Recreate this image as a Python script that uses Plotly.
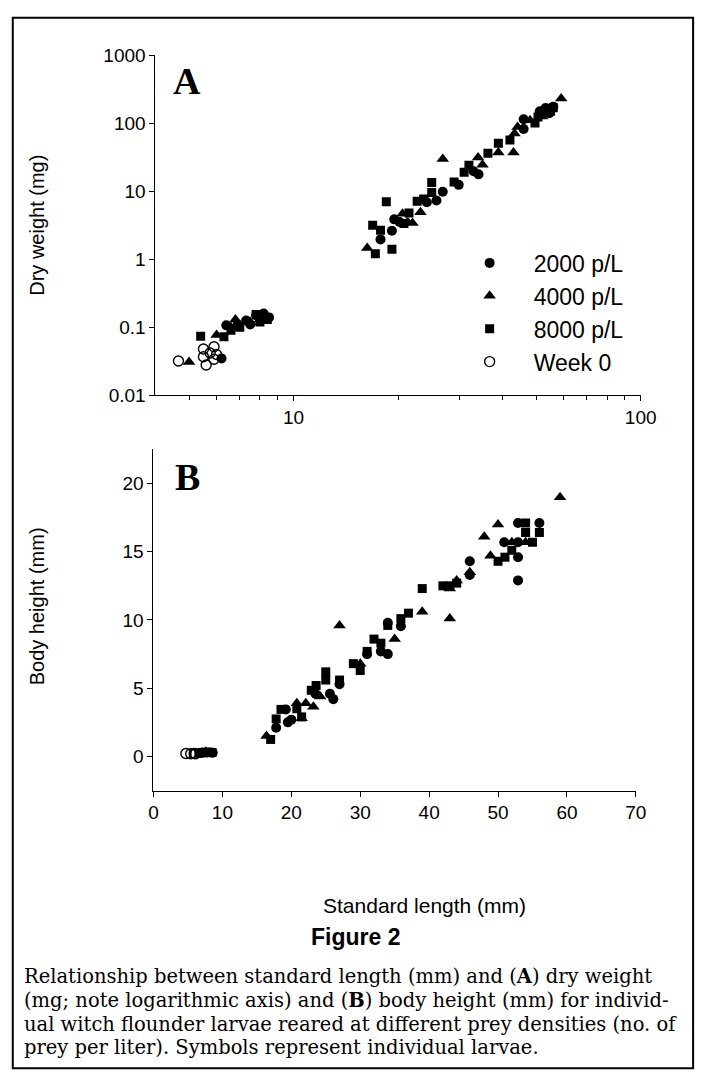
import plotly.graph_objects as go

W, H = 713, 1087
def px(x): return x / W
def py(y): return 1 - y / H

# ---------------- Panel A: dry weight (log-log) ----------------
a_len_2000 = [6.2, 6.4, 6.9, 7.3, 7.5, 7.8, 8.2, 8.5, 17.8, 19.2, 19.5, 20.2, 24.2, 25.8, 26.9, 29.9, 33.0, 34.1, 46.0, 46.0, 51.2, 53.2, 54.5, 56.0]
a_dw_2000 = [0.035, 0.107, 0.11, 0.126, 0.11, 0.15, 0.16, 0.14, 1.96, 2.62, 3.86, 3.53, 6.9, 7.3, 9.8, 12.4, 19.7, 17.7, 114, 82, 150, 167, 140, 175]

a_len_4000 = [5.0, 6.0, 6.6, 6.8, 7.5, 8.0, 16.3, 20.6, 21.3, 22.0, 23.2, 26.9, 34.0, 35.0, 38.9, 43.0, 43.3, 44.2, 48.0, 52.0, 54.0, 59.0]
a_dw_4000 = [0.031, 0.077, 0.10, 0.13, 0.12, 0.13, 1.46, 4.67, 3.53, 3.41, 4.92, 29.7, 31.4, 24.5, 37, 37, 70.5, 88, 110, 125, 145, 230]

a_len_8000 = [5.4, 6.3, 6.6, 7.0, 7.8, 8.0, 8.4, 16.9, 17.2, 17.8, 18.5, 19.2, 20.8, 21.5, 22.7, 23.7, 25.0, 25.0, 29.0, 31.0, 32.0, 36.3, 38.9, 42.0, 49.6, 50.6, 54.0, 55.0, 56.0]
a_dw_8000 = [0.074, 0.073, 0.091, 0.10, 0.155, 0.12, 0.13, 3.16, 1.21, 2.68, 7.0, 1.41, 3.35, 4.8, 7.1, 7.7, 9.6, 13.4, 13.7, 19, 24, 36, 50.6, 56.6, 101, 123, 160, 150, 168]

a_len_w0 = [4.66, 5.5, 5.5, 5.6, 5.75, 5.9, 5.9, 6.0]
a_dw_w0 = [0.032, 0.048, 0.037, 0.028, 0.042, 0.052, 0.034, 0.040]

# ---------------- Panel B: body height (linear) ----------------
b_len_2000 = [6.8, 7.3, 7.8, 8.3, 8.6, 17.8, 19.2, 19.5, 20.0, 23.5, 25.6, 26.1, 27.0, 31.0, 33.0, 34.0, 34.0, 35.9, 45.9, 45.9, 50.9, 52.9, 52.9, 52.9, 52.9, 56.0]
b_bh_2000 = [0.25, 0.3, 0.3, 0.3, 0.28, 2.1, 3.45, 2.5, 2.7, 4.6, 4.6, 4.2, 5.3, 7.5, 7.7, 7.5, 9.8, 9.55, 14.3, 13.3, 15.7, 17.1, 15.7, 14.6, 12.9, 17.1]

b_len_4000 = [7.0, 7.6, 8.1, 16.4, 20.8, 21.5, 22.1, 23.2, 24.2, 27.0, 30.0, 35.0, 39.0, 43.0, 43.0, 44.0, 45.9, 48.0, 48.9, 50.0, 52.0, 54.0, 59.0]
b_bh_4000 = [0.3, 0.35, 0.3, 1.5, 3.9, 2.8, 3.9, 3.65, 4.4, 9.6, 6.8, 8.6, 10.6, 12.3, 10.1, 12.9, 13.5, 16.1, 14.7, 17.0, 15.7, 15.7, 19.0]

b_len_8000 = [6.6, 7.2, 8.0, 8.5, 17.0, 17.8, 18.5, 20.8, 21.5, 22.9, 23.6, 25.0, 25.0, 27.0, 29.0, 30.0, 31.0, 32.0, 33.0, 34.0, 35.9, 37.0, 39.0, 42.0, 43.0, 44.0, 50.0, 51.0, 52.0, 54.0, 54.0, 55.0, 56.0]
b_bh_8000 = [0.25, 0.28, 0.3, 0.3, 1.25, 2.75, 3.45, 3.5, 2.9, 4.85, 5.2, 6.2, 5.6, 5.6, 6.8, 6.3, 7.7, 8.6, 8.3, 9.6, 10.1, 10.5, 12.3, 12.5, 12.5, 12.7, 14.3, 14.6, 15.1, 17.1, 16.4, 15.7, 16.4]

b_len_w0 = [4.7, 5.4, 5.9, 6.1]
b_bh_w0 = [0.22, 0.2, 0.22, 0.2]

series_names = ["2000 p/L", "4000 p/L", "8000 p/L", "Week 0"]

a_ytickvals = [0.01, 0.1, 1, 10, 100, 1000]
a_yticktext = ["0.01", "0.1", "1", "10", "100", "1000"]
a_xtickvals = [10, 100]
a_xminor = [5, 6, 7, 8, 9, 20, 30, 40, 50, 60, 70, 80, 90]
b_xtickvals = [0, 10, 20, 30, 40, 50, 60, 70]
b_ytickvals = [0, 5, 10, 15, 20]

fig = go.Figure()

def mk(symbol, size, open_=False):
    if open_:
        return dict(symbol="circle-open", size=size, color="black", line=dict(width=1.4, color="black"))
    return dict(symbol=symbol, size=size, color="black", line=dict(width=0))

styles = [mk("circle", 10), mk("triangle-up", 11), mk("square", 9), mk(None, 10, True)]
a_data = [(a_len_2000, a_dw_2000), (a_len_4000, a_dw_4000), (a_len_8000, a_dw_8000), (a_len_w0, a_dw_w0)]
b_data = [(b_len_2000, b_bh_2000), (b_len_4000, b_bh_4000), (b_len_8000, b_bh_8000), (b_len_w0, b_bh_w0)]

for i, name in enumerate(series_names):
    x, y = a_data[i]
    fig.add_trace(go.Scatter(x=x, y=y, mode="markers", name=name, marker=styles[i],
                             xaxis="x", yaxis="y", legendgroup=name, showlegend=True))
for i, name in enumerate(series_names):
    x, y = b_data[i]
    fig.add_trace(go.Scatter(x=x, y=y, mode="markers", name=name, marker=styles[i],
                             xaxis="x2", yaxis="y2", legendgroup=name, showlegend=False))

sans = "Liberation Sans, Arial, sans-serif"
tickfont = dict(family=sans, size=19, color="black")
axcommon = dict(showline=True, linecolor="black", linewidth=1, ticks="outside", ticklen=5,
                tickcolor="black", showgrid=False, zeroline=False, tickfont=tickfont)

fig.update_layout(
    width=W, height=H, margin=dict(l=0, r=0, t=0, b=0),
    paper_bgcolor="white", plot_bgcolor="white",
    xaxis=dict(domain=[px(155), px(655)], anchor="y", type="log", range=[0.60206, 2],
               tickvals=a_xtickvals, ticktext=["10", "100"],
               minor=dict(tickvals=a_xminor, ticks="outside", ticklen=4, tickcolor="black", showgrid=False),
               **axcommon),
    yaxis=dict(domain=[py(393), py(46)], anchor="x", type="log", range=[-2, 3],
               tickvals=a_ytickvals, ticktext=a_yticktext, **axcommon),
    xaxis2=dict(domain=[px(153), px(650)], anchor="y2", range=[0, 70],
                tickvals=b_xtickvals, **axcommon),
    yaxis2=dict(domain=[py(796), py(448)], anchor="x2", range=[-2.5, 22.5],
                tickvals=b_ytickvals, **axcommon),
    legend=dict(x=px(454), y=py(236), xanchor="left", yanchor="top",
                font=dict(family=sans, size=23, color="black"),
                bgcolor="rgba(0,0,0,0)", tracegroupgap=0, itemwidth=78),
    showlegend=True,
)

serif = "Liberation Serif, Times New Roman, serif"

def note(text, x, y, font, angle=0, xa="center", ya="middle"):
    return dict(text=text, x=px(x), y=py(y), xref="paper", yref="paper", showarrow=False,
                xanchor=xa, yanchor=ya, textangle=angle, font=font)

ann = [
    note("<b>A</b>", 188, 72, dict(family=serif, size=38, color="black")),
    note("<b>B</b>", 188, 476, dict(family=serif, size=38, color="black")),
    note("Dry weight (mg)", 33, 220, dict(family=sans, size=20, color="black"), angle=-90),
    note("Body height (mm)", 33, 608, dict(family=sans, size=20, color="black"), angle=-90),
    note("Standard length (mm)", 432, 913, dict(family=sans, size=21, color="black")),
    note("<b>Figure 2</b>", 361, 945, dict(family="Liberation Sans Narrow, Liberation Sans, Arial, sans-serif", size=23, color="black")),
]
caption = [
    "Relationship between standard length (mm) and (<b>A</b>) dry weight",
    "(mg; note logarithmic axis) and (<b>B</b>) body height (mm) for individ-",
    "ual witch flounder larvae reared at different prey densities (no. of",
    "prey per liter). Symbols represent individual larvae.",
]
for k, line in enumerate(caption):
    ann.append(note(line, 18, 986 + 24 * k, dict(family="DejaVu Serif, serif", size=19.5, color="black"),
                    xa="left", ya="middle"))
fig.update_layout(annotations=ann)

fig.update_layout(shapes=[dict(type="rect", xref="paper", yref="paper", x0=px(8), x1=px(709), y0=py(1079), y1=py(8),
                               line=dict(color="black", width=2))])

fig.write_html("out.html", config={"displayModeBar": False},
               post_script="document.body.style.margin='0px';document.body.style.overflow='hidden';")
